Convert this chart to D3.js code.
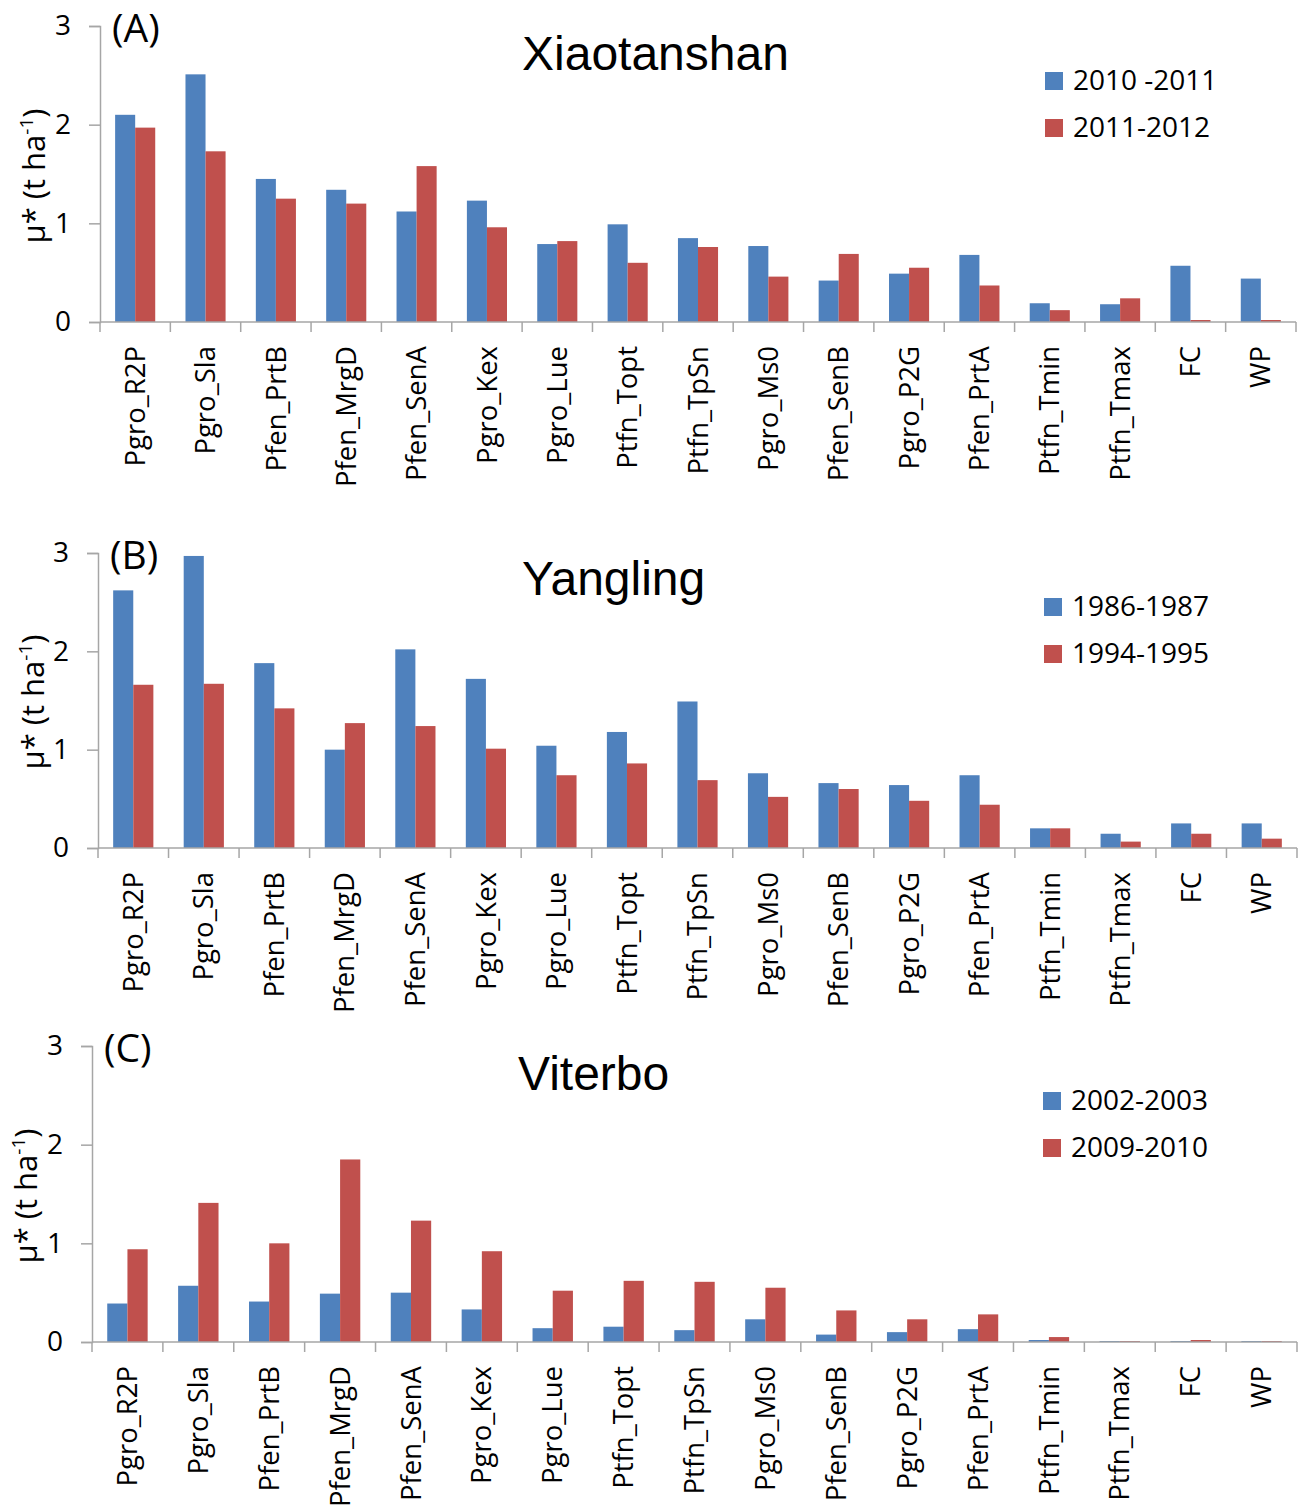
<!DOCTYPE html>
<html>
<head>
<meta charset="utf-8">
<script src="https://cdn.jsdelivr.net/npm/d3@7"></script>
<style>
  html, body { margin: 0; padding: 0; background: #fff; }
  svg { display: block; }
</style>
</head>
<body>
<svg id="chart" width="1306" height="1511"></svg>
<script>
// Model parameters (x categories), shared by all three sites
const categories = [
  "Pgro_R2P", "Pgro_Sla", "Pfen_PrtB", "Pfen_MrgD", "Pfen_SenA", "Pgro_Kex",
  "Pgro_Lue", "Ptfn_Topt", "Ptfn_TpSn", "Pgro_Ms0", "Pfen_SenB", "Pgro_P2G",
  "Pfen_PrtA", "Ptfn_Tmin", "Ptfn_Tmax", "FC", "WP"
];

const yTicks = [0, 1, 2, 3];

// (A) Xiaotanshan
const xiaotanshanSeasons = ["2010 -2011", "2011-2012"];
const xiaotanshan_2010_2011 = [2.10, 2.51, 1.45, 1.34, 1.12, 1.23, 0.79, 0.99, 0.85, 0.77, 0.42, 0.49, 0.68, 0.19, 0.18, 0.57, 0.44];
const xiaotanshan_2011_2012 = [1.97, 1.73, 1.25, 1.20, 1.58, 0.96, 0.82, 0.60, 0.76, 0.46, 0.69, 0.55, 0.37, 0.12, 0.24, 0.02, 0.02];

// (B) Yangling
const yanglingSeasons = ["1986-1987", "1994-1995"];
const yangling_1986_1987 = [2.62, 2.97, 1.88, 1.00, 2.02, 1.72, 1.04, 1.18, 1.49, 0.76, 0.66, 0.64, 0.74, 0.20, 0.145, 0.25, 0.25];
const yangling_1994_1995 = [1.66, 1.67, 1.42, 1.27, 1.24, 1.01, 0.74, 0.86, 0.69, 0.52, 0.60, 0.48, 0.44, 0.20, 0.065, 0.145, 0.095];

// (C) Viterbo
const viterboSeasons = ["2002-2003", "2009-2010"];
const viterbo_2002_2003 = [0.39, 0.57, 0.41, 0.49, 0.50, 0.33, 0.14, 0.155, 0.12, 0.23, 0.075, 0.10, 0.13, 0.02, 0.01, 0.01, 0.01];
const viterbo_2009_2010 = [0.94, 1.41, 1.00, 1.85, 1.23, 0.92, 0.52, 0.62, 0.61, 0.55, 0.32, 0.23, 0.28, 0.05, 0.01, 0.02, 0.01];

const colors = ["#4F81BD", "#C0504D"];
const axisColor = "#a6a6a6";
const labelFont = "'Open Sans', 'Noto Sans', sans-serif";
const titleFont = "'Liberation Sans', Arial, sans-serif";

const panels = [
  { tag: "(A)", site: "Xiaotanshan", seasons: xiaotanshanSeasons,
    series: [xiaotanshan_2010_2011, xiaotanshan_2011_2012],
    left: 100, right: 1296, top: 26, bottom: 322,
    titleX: 522, titleY: 70, legendX: 1045, legendY: 72, yLabelX: 45, yLabelY: 176 },
  { tag: "(B)", site: "Yangling", seasons: yanglingSeasons,
    series: [yangling_1986_1987, yangling_1994_1995],
    left: 98, right: 1297, top: 553, bottom: 848,
    titleX: 522, titleY: 595, legendX: 1044, legendY: 598, yLabelX: 44, yLabelY: 702 },
  { tag: "(C)", site: "Viterbo", seasons: viterboSeasons,
    series: [viterbo_2002_2003, viterbo_2009_2010],
    left: 92, right: 1297, top: 1046, bottom: 1342,
    titleX: 518, titleY: 1090, legendX: 1043, legendY: 1092, yLabelX: 37, yLabelY: 1196 }
];

const svg = d3.select("#chart");

panels.forEach(p => {
  const g = svg.append("g");

  const x = d3.scaleBand().domain(categories).range([p.left, p.right]).padding(0);
  const bw = x.bandwidth();
  const xs = d3.scaleBand().domain(d3.range(p.series.length))
    .range([bw * 0.215, bw * 0.785]).padding(0);
  const y = d3.scaleLinear().domain([0, 3]).range([p.bottom, p.top]);

  // bars
  p.series.forEach((vals, si) => {
    g.append("g").selectAll("rect")
      .data(vals)
      .join("rect")
      .attr("x", (d, i) => x(categories[i]) + xs(si))
      .attr("width", xs.bandwidth())
      .attr("y", d => y(d))
      .attr("height", d => y(0) - y(d))
      .attr("fill", colors[si]);
  });

  // y axis
  const yAxis = g.append("g")
    .attr("transform", `translate(${p.left},0)`)
    .call(d3.axisLeft(y).tickValues(yTicks).tickFormat(d3.format("d"))
      .tickSize(11).tickPadding(18));
  yAxis.select(".domain").attr("stroke", axisColor).attr("stroke-width", 1.5);
  yAxis.selectAll(".tick line").attr("stroke", axisColor).attr("stroke-width", 1.5);
  yAxis.selectAll(".tick text")
    .attr("font-family", labelFont).attr("font-size", 28).attr("fill", "#000");

  // x axis: ticks sit on band boundaries
  const xAxisG = g.append("g").attr("transform", `translate(0,${p.bottom})`);
  const edges = categories.map(c => x(c)).concat([p.right]);
  xAxisG.append("line")
    .attr("x1", p.left).attr("x2", p.right)
    .attr("y1", 0).attr("y2", 0)
    .attr("stroke", axisColor).attr("stroke-width", 1.5);
  xAxisG.selectAll("line.tk")
    .data(edges)
    .join("line")
    .attr("class", "tk")
    .attr("x1", d => d).attr("x2", d => d)
    .attr("y1", 0).attr("y2", 10)
    .attr("stroke", axisColor).attr("stroke-width", 1.5);
  xAxisG.selectAll("text")
    .data(categories)
    .join("text")
    .attr("transform", d => `translate(${x(d) + bw / 2},24) rotate(-90)`)
    .attr("dy", "0.35em")
    .attr("text-anchor", "end")
    .attr("font-family", labelFont)
    .attr("font-size", 27.5)
    .attr("fill", "#000")
    .text(d => d);

  // y axis title: μ* (t ha-1)
  const yl = g.append("text")
    .attr("transform", `translate(${p.yLabelX},${p.yLabelY}) rotate(-90)`)
    .attr("text-anchor", "middle")
    .attr("font-family", labelFont)
    .attr("font-size", 31)
    .attr("fill", "#000");
  yl.append("tspan").text("μ* (t ha");
  yl.append("tspan").attr("font-size", 19).attr("dy", -12).text("-1");
  yl.append("tspan").attr("dy", 12).text(")");

  // panel tag
  g.append("text")
    .attr("x", p.left + 12).attr("y", p.top + 16)
    .attr("font-family", labelFont)
    .attr("font-size", 39)
    .attr("fill", "#000")
    .text(p.tag);

  // site title
  g.append("text")
    .attr("x", p.titleX).attr("y", p.titleY)
    .attr("font-family", titleFont)
    .attr("font-size", 48)
    .attr("fill", "#000")
    .text(p.site);

  // legend
  const lg = g.append("g").attr("transform", `translate(${p.legendX},${p.legendY})`);
  p.seasons.forEach((s, i) => {
    lg.append("rect")
      .attr("x", 0).attr("y", i * 47)
      .attr("width", 18).attr("height", 18)
      .attr("fill", colors[i]);
    lg.append("text")
      .attr("x", 28).attr("y", i * 47 + 18)
      .attr("font-family", labelFont)
      .attr("font-size", 28)
      .attr("fill", "#000")
      .text(s);
  });
});
</script>
</body>
</html>
